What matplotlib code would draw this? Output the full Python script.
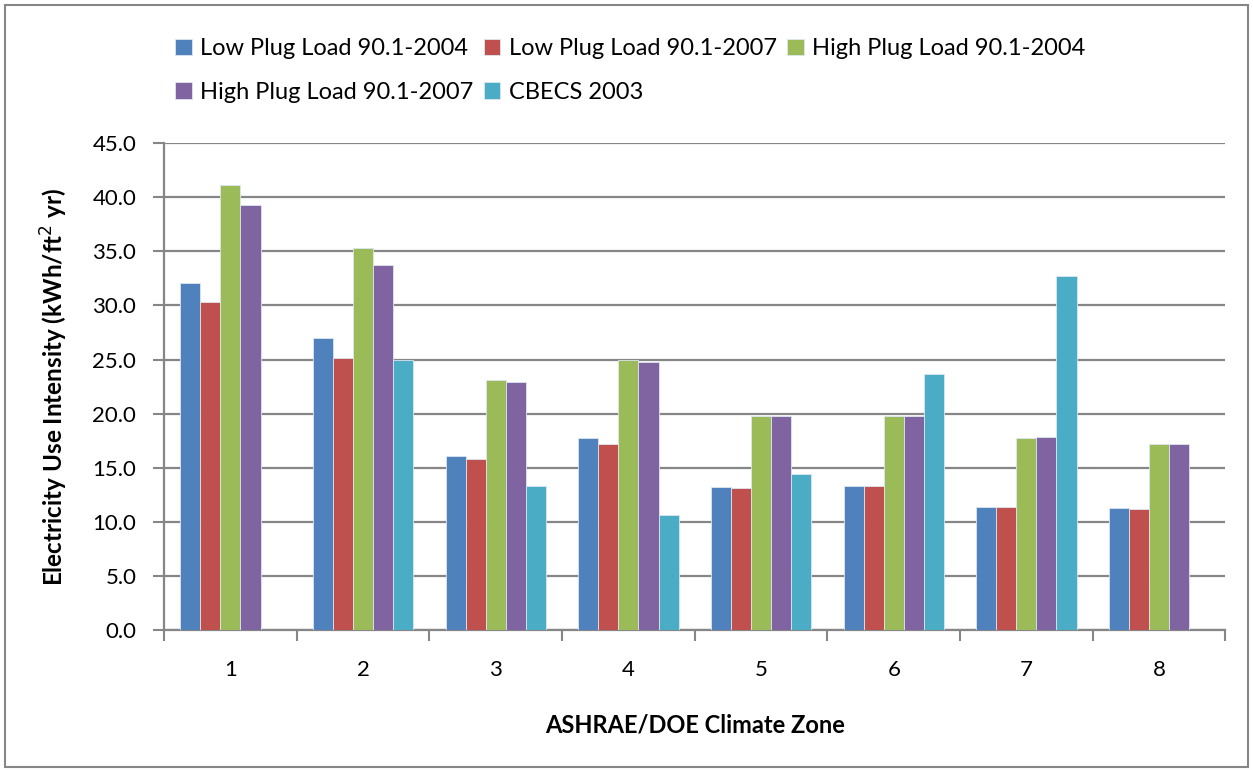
import numpy as np
import matplotlib.pyplot as plt
from matplotlib.patches import Rectangle

zones = ['1', '2', '3', '4', '5', '6', '7', '8']
series_names = ['Low Plug Load 90.1-2004', 'Low Plug Load 90.1-2007',
                'High Plug Load 90.1-2004', 'High Plug Load 90.1-2007', 'CBECS 2003']
low_2004 = [32.1, 27.0, 16.1, 17.7, 13.2, 13.3, 11.4, 11.3]
low_2007 = [30.3, 25.1, 15.8, 17.2, 13.1, 13.3, 11.4, 11.2]
high_2004 = [41.1, 35.3, 23.1, 25.0, 19.8, 19.8, 17.7, 17.2]
high_2007 = [39.3, 33.7, 22.9, 24.8, 19.8, 19.8, 17.8, 17.2]
cbecs_2003 = [np.nan, 25.0, 13.3, 10.6, 14.4, 23.7, 32.7, np.nan]
colors = ['#4F81BD', '#C0504D', '#9BBB59', '#8064A2', '#4BACC6']

plt.rcParams['font.family'] = ['Lato', 'DejaVu Sans']
fig = plt.figure(figsize=(12.53, 7.70), dpi=100)
ax = fig.add_axes([0.131, 0.182, 0.847, 0.632])

x = np.arange(1, len(zones) + 1)
w = 0.151
handles = []
for i, (vals, c) in enumerate(zip([low_2004, low_2007, high_2004, high_2007, cbecs_2003], colors)):
    b = ax.bar(x + (i - 2) * w, vals, w, color=c, edgecolor='#dde6f0', linewidth=0.6,
               label=series_names[i], zorder=3)
    handles.append(b)

ax.set_xlim(0.5, 8.5)
ax.set_ylim(0, 45)
ax.set_yticks(np.arange(0, 45.1, 5))
ax.set_yticklabels(['%.1f' % v for v in np.arange(0, 45.1, 5)], fontsize=16)
ax.set_xticks(np.arange(0.5, 8.6, 1))
ax.set_xticklabels([])
ax.set_xticks(x, minor=True)
ax.set_xticklabels(zones, minor=True, fontsize=16)
ax.tick_params(axis='x', which='minor', length=0, pad=22)
ax.tick_params(axis='x', which='major', length=8, width=1.5, color='#868686', direction='out')
ax.tick_params(axis='y', length=8, width=1.5, color='#868686', direction='out', pad=12)
ax.grid(axis='y', color='#868686', linewidth=1.6, zorder=0)
ax.set_axisbelow(True)
for s in ['top', 'right']:
    ax.spines[s].set_visible(False)
for s in ['left', 'bottom']:
    ax.spines[s].set_color('#868686')
    ax.spines[s].set_linewidth(1.6)

ax.set_xlabel('ASHRAE/DOE Climate Zone', fontsize=17, fontweight='bold', labelpad=24)
ax.set_ylabel('Electricity Use Intensity (kWh/ft$^2$ yr)', fontsize=17.5, fontweight='bold', labelpad=16)

order = [0, 3, 1, 4, 2]
fig.legend([handles[i] for i in order], [series_names[i] for i in order], ncol=3,
           loc='upper center', bbox_to_anchor=(0.503, 0.978), frameon=False, fontsize=17,
           handlelength=0.7, handleheight=0.7, handletextpad=0.35, columnspacing=0.45,
           labelspacing=0.95)

fig.patches.append(Rectangle((0.004, 0.004), 0.992, 0.99, transform=fig.transFigure,
                             fill=False, edgecolor='#868686', linewidth=1.5))

plt.savefig('out.png', dpi=100)
